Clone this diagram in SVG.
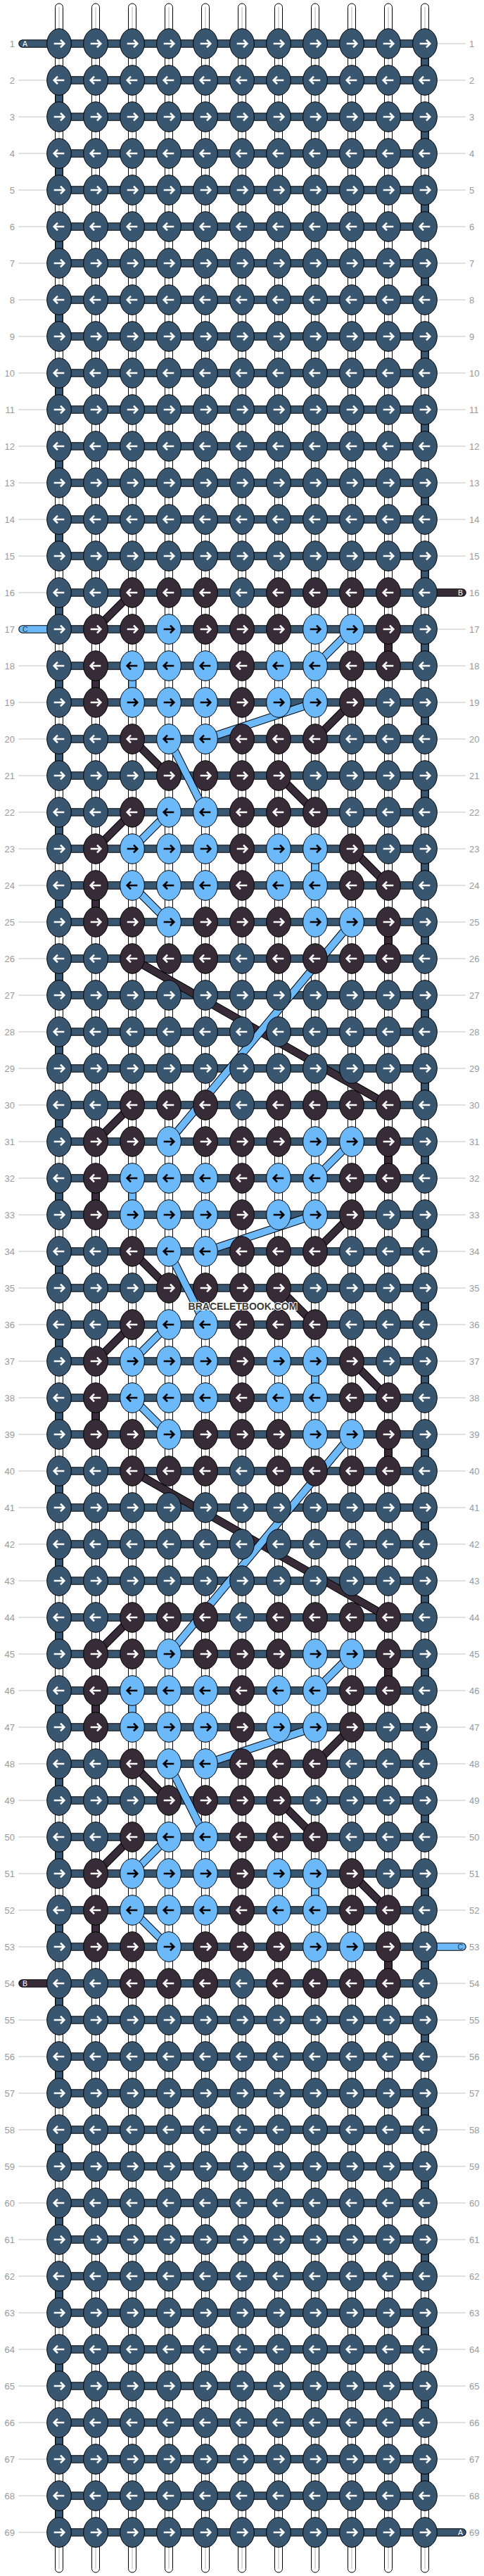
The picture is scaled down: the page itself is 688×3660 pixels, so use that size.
<svg xmlns="http://www.w3.org/2000/svg" width="688" height="3660" viewBox="0 0 688 3660">
<style>
.o{fill:none;stroke:#000;stroke-width:11.5}
.s{fill:none;stroke:#385670;stroke-width:9.5}
.p{fill:none;stroke:#372b38;stroke-width:9.5}
.l{fill:none;stroke:#6cb9fa;stroke-width:9.5}
.rc{stroke-linecap:round}
.th{fill:#fff;stroke:#000;stroke-width:1}
.tc{stroke:#b4b4b4;stroke-width:1}
.gd{fill:none;stroke:#c4c4c4;stroke-width:1.2}
.ks{fill:#385670;stroke:#000;stroke-width:1}
.kp{fill:#372b38;stroke:#000;stroke-width:1}
.kl{fill:#6cb9fa;stroke:#000;stroke-width:1}
.aw{fill:none;stroke:#fff;stroke-width:2.6}
.ab{fill:none;stroke:#000;stroke-width:2.6}
.rn{font-family:"Liberation Sans",Arial,sans-serif;font-size:13px;fill:#999}
.rl{text-anchor:end}
.sl{font-family:"Liberation Sans",Arial,sans-serif;font-size:10.5px}
.wm{font-family:"Liberation Sans",Arial,sans-serif;font-size:14px;font-weight:bold;fill:#3a3a3a;stroke:#fff;stroke-width:2;paint-order:stroke;text-anchor:middle}
</style>
<defs>
<path id="ar" d="M-7.3,0H6.5M2,-5.3L7.3,0L2,5.3"/>
<path id="al" d="M7.3,0H-6.5M-2,-5.3L-7.3,0L-2,5.3"/>
<g id="Sr"><ellipse rx="17.3" ry="21.3" class="ks"/><use href="#ar" class="aw"/></g>
<g id="Sl"><ellipse rx="17.3" ry="21.3" class="ks"/><use href="#al" class="aw"/></g>
<g id="Pr"><ellipse rx="17.3" ry="21.3" class="kp"/><use href="#ar" class="aw"/></g>
<g id="Pl"><ellipse rx="17.3" ry="21.3" class="kp"/><use href="#al" class="aw"/></g>
<g id="Lr"><ellipse rx="17.3" ry="21.3" class="kl"/><use href="#ar" class="ab"/></g>
<g id="Ll"><ellipse rx="17.3" ry="21.3" class="kl"/><use href="#al" class="ab"/></g>
<path id="mP" d="M552,894V946M136,946V998M136,1258V1310M552,1310V1362M188,842L136,894M500,998L448,1050M188,1050L240,1102M396,1102L448,1154M188,1154L136,1206M500,1206L552,1258"/>
<path id="mL" d="M188,946V998M448,1206V1258M500,894L448,946M448,998L292,1050M240,1050L292,1154M240,1154L188,1206M188,1258L240,1310"/>
<path id="lP" d="M188,1362L552,1570M188,2090L552,2298"/>
<path id="lL" d="M500,1310L240,1622M500,2038L240,2350"/>
</defs>
<rect width="688" height="3660" fill="#fff"/>
<g id="threads">
<rect class="th" x="78.5" y="5" width="11" height="3650" rx="5.5"/><line class="tc" x1="84" y1="10" x2="84" y2="3650"/>
<rect class="th" x="130.5" y="5" width="11" height="3650" rx="5.5"/><line class="tc" x1="136" y1="10" x2="136" y2="3650"/>
<rect class="th" x="182.5" y="5" width="11" height="3650" rx="5.5"/><line class="tc" x1="188" y1="10" x2="188" y2="3650"/>
<rect class="th" x="234.5" y="5" width="11" height="3650" rx="5.5"/><line class="tc" x1="240" y1="10" x2="240" y2="3650"/>
<rect class="th" x="286.5" y="5" width="11" height="3650" rx="5.5"/><line class="tc" x1="292" y1="10" x2="292" y2="3650"/>
<rect class="th" x="338.5" y="5" width="11" height="3650" rx="5.5"/><line class="tc" x1="344" y1="10" x2="344" y2="3650"/>
<rect class="th" x="390.5" y="5" width="11" height="3650" rx="5.5"/><line class="tc" x1="396" y1="10" x2="396" y2="3650"/>
<rect class="th" x="442.5" y="5" width="11" height="3650" rx="5.5"/><line class="tc" x1="448" y1="10" x2="448" y2="3650"/>
<rect class="th" x="494.5" y="5" width="11" height="3650" rx="5.5"/><line class="tc" x1="500" y1="10" x2="500" y2="3650"/>
<rect class="th" x="546.5" y="5" width="11" height="3650" rx="5.5"/><line class="tc" x1="552" y1="10" x2="552" y2="3650"/>
<rect class="th" x="598.5" y="5" width="11" height="3650" rx="5.5"/><line class="tc" x1="604" y1="10" x2="604" y2="3650"/>
</g>
<g id="guides">
<path class="gd" d="M26,114H70M26,166H70M26,218H70M26,270H70M26,322H70M26,374H70M26,426H70M26,478H70M26,530H70M26,582H70M26,634H70M26,686H70M26,738H70M26,790H70M26,842H70M26,946H70M26,998H70M26,1050H70M26,1102H70M26,1154H70M26,1206H70M26,1258H70M26,1310H70M26,1362H70M26,1414H70M26,1466H70M26,1518H70M26,1570H70M26,1622H70M26,1674H70M26,1726H70M26,1778H70M26,1830H70M26,1882H70M26,1934H70M26,1986H70M26,2038H70M26,2090H70M26,2142H70M26,2194H70M26,2246H70M26,2298H70M26,2350H70M26,2402H70M26,2454H70M26,2506H70M26,2558H70M26,2610H70M26,2662H70M26,2714H70M26,2766H70M26,2870H70M26,2922H70M26,2974H70M26,3026H70M26,3078H70M26,3130H70M26,3182H70M26,3234H70M26,3286H70M26,3338H70M26,3390H70M26,3442H70M26,3494H70M26,3546H70M26,3598H70"/>
<path class="gd" d="M618,62H662M618,114H662M618,166H662M618,218H662M618,270H662M618,322H662M618,374H662M618,426H662M618,478H662M618,530H662M618,582H662M618,634H662M618,686H662M618,738H662M618,790H662M618,894H662M618,946H662M618,998H662M618,1050H662M618,1102H662M618,1154H662M618,1206H662M618,1258H662M618,1310H662M618,1362H662M618,1414H662M618,1466H662M618,1518H662M618,1570H662M618,1622H662M618,1674H662M618,1726H662M618,1778H662M618,1830H662M618,1882H662M618,1934H662M618,1986H662M618,2038H662M618,2090H662M618,2142H662M618,2194H662M618,2246H662M618,2298H662M618,2350H662M618,2402H662M618,2454H662M618,2506H662M618,2558H662M618,2610H662M618,2662H662M618,2714H662M618,2818H662M618,2870H662M618,2922H662M618,2974H662M618,3026H662M618,3078H662M618,3130H662M618,3182H662M618,3234H662M618,3286H662M618,3338H662M618,3390H662M618,3442H662M618,3494H662M618,3546H662"/>
</g>
<g id="connectors">
<g id="threadA">
<path class="o rc" d="M32,62H604V114H84V166H604V218H84V270H604V322H84V374H604V426H84V478H604V530H84V582H604V634H84V686H604V738H84V790H604V842H84V894H604V946H84V998H604V1050H84V1102H604V1154H84V1206H604V1258H84V1310H604V1362H84V1414H604V1466H84V1518H604V1570H84V1622H604V1674H84V1726H604V1778H84V1830H604V1882H84V1934H604V1986H84V2038H604V2090H84V2142H604V2194H84V2246H604V2298H84V2350H604V2402H84V2454H604V2506H84V2558H604V2610H84V2662H604V2714H84V2766H604V2818H84V2870H604V2922H84V2974H604V3026H84V3078H604V3130H84V3182H604V3234H84V3286H604V3338H84V3390H604V3442H84V3494H604V3546H84V3598H657"/>
<path class="s rc" d="M32,62H604V114H84V166H604V218H84V270H604V322H84V374H604V426H84V478H604V530H84V582H604V634H84V686H604V738H84V790H604V842H84V894H604V946H84V998H604V1050H84V1102H604V1154H84V1206H604V1258H84V1310H604V1362H84V1414H604V1466H84V1518H604V1570H84V1622H604V1674H84V1726H604V1778H84V1830H604V1882H84V1934H604V1986H84V2038H604V2090H84V2142H604V2194H84V2246H604V2298H84V2350H604V2402H84V2454H604V2506H84V2558H604V2610H84V2662H604V2714H84V2766H604V2818H84V2870H604V2922H84V2974H604V3026H84V3078H604V3130H84V3182H604V3234H84V3286H604V3338H84V3390H604V3442H84V3494H604V3546H84V3598H657"/>
</g>
<g id="stubs">
<path class="o rc" d="M604,842H657M604,2766H657M32,894H84M32,2818H84"/>
<path class="p rc" d="M604,842H657M32,2818H84"/>
<path class="l rc" d="M32,894H84M604,2766H657"/>
</g>
<g id="motif1"><use href="#mP" class="o"/><use href="#mP" class="p"/><use href="#mL" class="o"/><use href="#mL" class="l"/></g>
<g id="motif2"><use href="#mP" class="o" y="728"/><use href="#mP" class="p" y="728"/><use href="#mL" class="o" y="728"/><use href="#mL" class="l" y="728"/></g>
<g id="motif3"><use href="#mP" class="o" y="1456"/><use href="#mP" class="p" y="1456"/><use href="#mL" class="o" y="1456"/><use href="#mL" class="l" y="1456"/></g>
<g id="floats"><use href="#lP" class="o"/><use href="#lP" class="p"/><use href="#lL" class="o"/><use href="#lL" class="l"/></g>
</g>
<g id="knots">
<g id="row1" transform="translate(0,62)"><use id="k1-1" href="#Sr" x="84"/><use id="k1-2" href="#Sr" x="136"/><use id="k1-3" href="#Sr" x="188"/><use id="k1-4" href="#Sr" x="240"/><use id="k1-5" href="#Sr" x="292"/><use id="k1-6" href="#Sr" x="344"/><use id="k1-7" href="#Sr" x="396"/><use id="k1-8" href="#Sr" x="448"/><use id="k1-9" href="#Sr" x="500"/><use id="k1-10" href="#Sr" x="552"/><use id="k1-11" href="#Sr" x="604"/></g>
<g id="row2" transform="translate(0,114)"><use id="k2-1" href="#Sl" x="84"/><use id="k2-2" href="#Sl" x="136"/><use id="k2-3" href="#Sl" x="188"/><use id="k2-4" href="#Sl" x="240"/><use id="k2-5" href="#Sl" x="292"/><use id="k2-6" href="#Sl" x="344"/><use id="k2-7" href="#Sl" x="396"/><use id="k2-8" href="#Sl" x="448"/><use id="k2-9" href="#Sl" x="500"/><use id="k2-10" href="#Sl" x="552"/><use id="k2-11" href="#Sl" x="604"/></g>
<g id="row3" transform="translate(0,166)"><use id="k3-1" href="#Sr" x="84"/><use id="k3-2" href="#Sr" x="136"/><use id="k3-3" href="#Sr" x="188"/><use id="k3-4" href="#Sr" x="240"/><use id="k3-5" href="#Sr" x="292"/><use id="k3-6" href="#Sr" x="344"/><use id="k3-7" href="#Sr" x="396"/><use id="k3-8" href="#Sr" x="448"/><use id="k3-9" href="#Sr" x="500"/><use id="k3-10" href="#Sr" x="552"/><use id="k3-11" href="#Sr" x="604"/></g>
<g id="row4" transform="translate(0,218)"><use id="k4-1" href="#Sl" x="84"/><use id="k4-2" href="#Sl" x="136"/><use id="k4-3" href="#Sl" x="188"/><use id="k4-4" href="#Sl" x="240"/><use id="k4-5" href="#Sl" x="292"/><use id="k4-6" href="#Sl" x="344"/><use id="k4-7" href="#Sl" x="396"/><use id="k4-8" href="#Sl" x="448"/><use id="k4-9" href="#Sl" x="500"/><use id="k4-10" href="#Sl" x="552"/><use id="k4-11" href="#Sl" x="604"/></g>
<g id="row5" transform="translate(0,270)"><use id="k5-1" href="#Sr" x="84"/><use id="k5-2" href="#Sr" x="136"/><use id="k5-3" href="#Sr" x="188"/><use id="k5-4" href="#Sr" x="240"/><use id="k5-5" href="#Sr" x="292"/><use id="k5-6" href="#Sr" x="344"/><use id="k5-7" href="#Sr" x="396"/><use id="k5-8" href="#Sr" x="448"/><use id="k5-9" href="#Sr" x="500"/><use id="k5-10" href="#Sr" x="552"/><use id="k5-11" href="#Sr" x="604"/></g>
<g id="row6" transform="translate(0,322)"><use id="k6-1" href="#Sl" x="84"/><use id="k6-2" href="#Sl" x="136"/><use id="k6-3" href="#Sl" x="188"/><use id="k6-4" href="#Sl" x="240"/><use id="k6-5" href="#Sl" x="292"/><use id="k6-6" href="#Sl" x="344"/><use id="k6-7" href="#Sl" x="396"/><use id="k6-8" href="#Sl" x="448"/><use id="k6-9" href="#Sl" x="500"/><use id="k6-10" href="#Sl" x="552"/><use id="k6-11" href="#Sl" x="604"/></g>
<g id="row7" transform="translate(0,374)"><use id="k7-1" href="#Sr" x="84"/><use id="k7-2" href="#Sr" x="136"/><use id="k7-3" href="#Sr" x="188"/><use id="k7-4" href="#Sr" x="240"/><use id="k7-5" href="#Sr" x="292"/><use id="k7-6" href="#Sr" x="344"/><use id="k7-7" href="#Sr" x="396"/><use id="k7-8" href="#Sr" x="448"/><use id="k7-9" href="#Sr" x="500"/><use id="k7-10" href="#Sr" x="552"/><use id="k7-11" href="#Sr" x="604"/></g>
<g id="row8" transform="translate(0,426)"><use id="k8-1" href="#Sl" x="84"/><use id="k8-2" href="#Sl" x="136"/><use id="k8-3" href="#Sl" x="188"/><use id="k8-4" href="#Sl" x="240"/><use id="k8-5" href="#Sl" x="292"/><use id="k8-6" href="#Sl" x="344"/><use id="k8-7" href="#Sl" x="396"/><use id="k8-8" href="#Sl" x="448"/><use id="k8-9" href="#Sl" x="500"/><use id="k8-10" href="#Sl" x="552"/><use id="k8-11" href="#Sl" x="604"/></g>
<g id="row9" transform="translate(0,478)"><use id="k9-1" href="#Sr" x="84"/><use id="k9-2" href="#Sr" x="136"/><use id="k9-3" href="#Sr" x="188"/><use id="k9-4" href="#Sr" x="240"/><use id="k9-5" href="#Sr" x="292"/><use id="k9-6" href="#Sr" x="344"/><use id="k9-7" href="#Sr" x="396"/><use id="k9-8" href="#Sr" x="448"/><use id="k9-9" href="#Sr" x="500"/><use id="k9-10" href="#Sr" x="552"/><use id="k9-11" href="#Sr" x="604"/></g>
<g id="row10" transform="translate(0,530)"><use id="k10-1" href="#Sl" x="84"/><use id="k10-2" href="#Sl" x="136"/><use id="k10-3" href="#Sl" x="188"/><use id="k10-4" href="#Sl" x="240"/><use id="k10-5" href="#Sl" x="292"/><use id="k10-6" href="#Sl" x="344"/><use id="k10-7" href="#Sl" x="396"/><use id="k10-8" href="#Sl" x="448"/><use id="k10-9" href="#Sl" x="500"/><use id="k10-10" href="#Sl" x="552"/><use id="k10-11" href="#Sl" x="604"/></g>
<g id="row11" transform="translate(0,582)"><use id="k11-1" href="#Sr" x="84"/><use id="k11-2" href="#Sr" x="136"/><use id="k11-3" href="#Sr" x="188"/><use id="k11-4" href="#Sr" x="240"/><use id="k11-5" href="#Sr" x="292"/><use id="k11-6" href="#Sr" x="344"/><use id="k11-7" href="#Sr" x="396"/><use id="k11-8" href="#Sr" x="448"/><use id="k11-9" href="#Sr" x="500"/><use id="k11-10" href="#Sr" x="552"/><use id="k11-11" href="#Sr" x="604"/></g>
<g id="row12" transform="translate(0,634)"><use id="k12-1" href="#Sl" x="84"/><use id="k12-2" href="#Sl" x="136"/><use id="k12-3" href="#Sl" x="188"/><use id="k12-4" href="#Sl" x="240"/><use id="k12-5" href="#Sl" x="292"/><use id="k12-6" href="#Sl" x="344"/><use id="k12-7" href="#Sl" x="396"/><use id="k12-8" href="#Sl" x="448"/><use id="k12-9" href="#Sl" x="500"/><use id="k12-10" href="#Sl" x="552"/><use id="k12-11" href="#Sl" x="604"/></g>
<g id="row13" transform="translate(0,686)"><use id="k13-1" href="#Sr" x="84"/><use id="k13-2" href="#Sr" x="136"/><use id="k13-3" href="#Sr" x="188"/><use id="k13-4" href="#Sr" x="240"/><use id="k13-5" href="#Sr" x="292"/><use id="k13-6" href="#Sr" x="344"/><use id="k13-7" href="#Sr" x="396"/><use id="k13-8" href="#Sr" x="448"/><use id="k13-9" href="#Sr" x="500"/><use id="k13-10" href="#Sr" x="552"/><use id="k13-11" href="#Sr" x="604"/></g>
<g id="row14" transform="translate(0,738)"><use id="k14-1" href="#Sl" x="84"/><use id="k14-2" href="#Sl" x="136"/><use id="k14-3" href="#Sl" x="188"/><use id="k14-4" href="#Sl" x="240"/><use id="k14-5" href="#Sl" x="292"/><use id="k14-6" href="#Sl" x="344"/><use id="k14-7" href="#Sl" x="396"/><use id="k14-8" href="#Sl" x="448"/><use id="k14-9" href="#Sl" x="500"/><use id="k14-10" href="#Sl" x="552"/><use id="k14-11" href="#Sl" x="604"/></g>
<g id="row15" transform="translate(0,790)"><use id="k15-1" href="#Sr" x="84"/><use id="k15-2" href="#Sr" x="136"/><use id="k15-3" href="#Sr" x="188"/><use id="k15-4" href="#Sr" x="240"/><use id="k15-5" href="#Sr" x="292"/><use id="k15-6" href="#Sr" x="344"/><use id="k15-7" href="#Sr" x="396"/><use id="k15-8" href="#Sr" x="448"/><use id="k15-9" href="#Sr" x="500"/><use id="k15-10" href="#Sr" x="552"/><use id="k15-11" href="#Sr" x="604"/></g>
<g id="row16" transform="translate(0,842)"><use id="k16-1" href="#Sl" x="84"/><use id="k16-2" href="#Sl" x="136"/><use id="k16-3" href="#Pl" x="188"/><use id="k16-4" href="#Pl" x="240"/><use id="k16-5" href="#Pl" x="292"/><use id="k16-6" href="#Sl" x="344"/><use id="k16-7" href="#Pl" x="396"/><use id="k16-8" href="#Pl" x="448"/><use id="k16-9" href="#Pl" x="500"/><use id="k16-10" href="#Pl" x="552"/><use id="k16-11" href="#Sl" x="604"/></g>
<g id="row17" transform="translate(0,894)"><use id="k17-1" href="#Sr" x="84"/><use id="k17-2" href="#Pr" x="136"/><use id="k17-3" href="#Pr" x="188"/><use id="k17-4" href="#Lr" x="240"/><use id="k17-5" href="#Pr" x="292"/><use id="k17-6" href="#Pr" x="344"/><use id="k17-7" href="#Pr" x="396"/><use id="k17-8" href="#Lr" x="448"/><use id="k17-9" href="#Lr" x="500"/><use id="k17-10" href="#Pr" x="552"/><use id="k17-11" href="#Sr" x="604"/></g>
<g id="row18" transform="translate(0,946)"><use id="k18-1" href="#Sl" x="84"/><use id="k18-2" href="#Pl" x="136"/><use id="k18-3" href="#Ll" x="188"/><use id="k18-4" href="#Ll" x="240"/><use id="k18-5" href="#Ll" x="292"/><use id="k18-6" href="#Pl" x="344"/><use id="k18-7" href="#Ll" x="396"/><use id="k18-8" href="#Ll" x="448"/><use id="k18-9" href="#Pl" x="500"/><use id="k18-10" href="#Pl" x="552"/><use id="k18-11" href="#Sl" x="604"/></g>
<g id="row19" transform="translate(0,998)"><use id="k19-1" href="#Sr" x="84"/><use id="k19-2" href="#Pr" x="136"/><use id="k19-3" href="#Lr" x="188"/><use id="k19-4" href="#Lr" x="240"/><use id="k19-5" href="#Lr" x="292"/><use id="k19-6" href="#Pr" x="344"/><use id="k19-7" href="#Lr" x="396"/><use id="k19-8" href="#Lr" x="448"/><use id="k19-9" href="#Pr" x="500"/><use id="k19-10" href="#Sr" x="552"/><use id="k19-11" href="#Sr" x="604"/></g>
<g id="row20" transform="translate(0,1050)"><use id="k20-1" href="#Sl" x="84"/><use id="k20-2" href="#Sl" x="136"/><use id="k20-3" href="#Pl" x="188"/><use id="k20-4" href="#Ll" x="240"/><use id="k20-5" href="#Ll" x="292"/><use id="k20-6" href="#Pl" x="344"/><use id="k20-7" href="#Pl" x="396"/><use id="k20-8" href="#Pl" x="448"/><use id="k20-9" href="#Sl" x="500"/><use id="k20-10" href="#Sl" x="552"/><use id="k20-11" href="#Sl" x="604"/></g>
<g id="row21" transform="translate(0,1102)"><use id="k21-1" href="#Sr" x="84"/><use id="k21-2" href="#Sr" x="136"/><use id="k21-3" href="#Sr" x="188"/><use id="k21-4" href="#Pr" x="240"/><use id="k21-5" href="#Pr" x="292"/><use id="k21-6" href="#Pr" x="344"/><use id="k21-7" href="#Pr" x="396"/><use id="k21-8" href="#Sr" x="448"/><use id="k21-9" href="#Sr" x="500"/><use id="k21-10" href="#Sr" x="552"/><use id="k21-11" href="#Sr" x="604"/></g>
<g id="row22" transform="translate(0,1154)"><use id="k22-1" href="#Sl" x="84"/><use id="k22-2" href="#Sl" x="136"/><use id="k22-3" href="#Pl" x="188"/><use id="k22-4" href="#Ll" x="240"/><use id="k22-5" href="#Ll" x="292"/><use id="k22-6" href="#Pl" x="344"/><use id="k22-7" href="#Pl" x="396"/><use id="k22-8" href="#Pl" x="448"/><use id="k22-9" href="#Sl" x="500"/><use id="k22-10" href="#Sl" x="552"/><use id="k22-11" href="#Sl" x="604"/></g>
<g id="row23" transform="translate(0,1206)"><use id="k23-1" href="#Sr" x="84"/><use id="k23-2" href="#Pr" x="136"/><use id="k23-3" href="#Lr" x="188"/><use id="k23-4" href="#Lr" x="240"/><use id="k23-5" href="#Lr" x="292"/><use id="k23-6" href="#Pr" x="344"/><use id="k23-7" href="#Lr" x="396"/><use id="k23-8" href="#Lr" x="448"/><use id="k23-9" href="#Pr" x="500"/><use id="k23-10" href="#Sr" x="552"/><use id="k23-11" href="#Sr" x="604"/></g>
<g id="row24" transform="translate(0,1258)"><use id="k24-1" href="#Sl" x="84"/><use id="k24-2" href="#Pl" x="136"/><use id="k24-3" href="#Ll" x="188"/><use id="k24-4" href="#Ll" x="240"/><use id="k24-5" href="#Ll" x="292"/><use id="k24-6" href="#Pl" x="344"/><use id="k24-7" href="#Ll" x="396"/><use id="k24-8" href="#Ll" x="448"/><use id="k24-9" href="#Pl" x="500"/><use id="k24-10" href="#Pl" x="552"/><use id="k24-11" href="#Sl" x="604"/></g>
<g id="row25" transform="translate(0,1310)"><use id="k25-1" href="#Sr" x="84"/><use id="k25-2" href="#Pr" x="136"/><use id="k25-3" href="#Pr" x="188"/><use id="k25-4" href="#Lr" x="240"/><use id="k25-5" href="#Pr" x="292"/><use id="k25-6" href="#Pr" x="344"/><use id="k25-7" href="#Pr" x="396"/><use id="k25-8" href="#Lr" x="448"/><use id="k25-9" href="#Lr" x="500"/><use id="k25-10" href="#Pr" x="552"/><use id="k25-11" href="#Sr" x="604"/></g>
<g id="row26" transform="translate(0,1362)"><use id="k26-1" href="#Sl" x="84"/><use id="k26-2" href="#Sl" x="136"/><use id="k26-3" href="#Pl" x="188"/><use id="k26-4" href="#Pl" x="240"/><use id="k26-5" href="#Pl" x="292"/><use id="k26-6" href="#Sl" x="344"/><use id="k26-7" href="#Pl" x="396"/><use id="k26-8" href="#Pl" x="448"/><use id="k26-9" href="#Pl" x="500"/><use id="k26-10" href="#Pl" x="552"/><use id="k26-11" href="#Sl" x="604"/></g>
<g id="row27" transform="translate(0,1414)"><use id="k27-1" href="#Sr" x="84"/><use id="k27-2" href="#Sr" x="136"/><use id="k27-3" href="#Sr" x="188"/><use id="k27-4" href="#Sr" x="240"/><use id="k27-5" href="#Sr" x="292"/><use id="k27-6" href="#Sr" x="344"/><use id="k27-7" href="#Sr" x="396"/><use id="k27-8" href="#Sr" x="448"/><use id="k27-9" href="#Sr" x="500"/><use id="k27-10" href="#Sr" x="552"/><use id="k27-11" href="#Sr" x="604"/></g>
<g id="row28" transform="translate(0,1466)"><use id="k28-1" href="#Sl" x="84"/><use id="k28-2" href="#Sl" x="136"/><use id="k28-3" href="#Sl" x="188"/><use id="k28-4" href="#Sl" x="240"/><use id="k28-5" href="#Sl" x="292"/><use id="k28-6" href="#Sl" x="344"/><use id="k28-7" href="#Sl" x="396"/><use id="k28-8" href="#Sl" x="448"/><use id="k28-9" href="#Sl" x="500"/><use id="k28-10" href="#Sl" x="552"/><use id="k28-11" href="#Sl" x="604"/></g>
<g id="row29" transform="translate(0,1518)"><use id="k29-1" href="#Sr" x="84"/><use id="k29-2" href="#Sr" x="136"/><use id="k29-3" href="#Sr" x="188"/><use id="k29-4" href="#Sr" x="240"/><use id="k29-5" href="#Sr" x="292"/><use id="k29-6" href="#Sr" x="344"/><use id="k29-7" href="#Sr" x="396"/><use id="k29-8" href="#Sr" x="448"/><use id="k29-9" href="#Sr" x="500"/><use id="k29-10" href="#Sr" x="552"/><use id="k29-11" href="#Sr" x="604"/></g>
<g id="row30" transform="translate(0,1570)"><use id="k30-1" href="#Sl" x="84"/><use id="k30-2" href="#Sl" x="136"/><use id="k30-3" href="#Pl" x="188"/><use id="k30-4" href="#Pl" x="240"/><use id="k30-5" href="#Pl" x="292"/><use id="k30-6" href="#Sl" x="344"/><use id="k30-7" href="#Pl" x="396"/><use id="k30-8" href="#Pl" x="448"/><use id="k30-9" href="#Pl" x="500"/><use id="k30-10" href="#Pl" x="552"/><use id="k30-11" href="#Sl" x="604"/></g>
<g id="row31" transform="translate(0,1622)"><use id="k31-1" href="#Sr" x="84"/><use id="k31-2" href="#Pr" x="136"/><use id="k31-3" href="#Pr" x="188"/><use id="k31-4" href="#Lr" x="240"/><use id="k31-5" href="#Pr" x="292"/><use id="k31-6" href="#Pr" x="344"/><use id="k31-7" href="#Pr" x="396"/><use id="k31-8" href="#Lr" x="448"/><use id="k31-9" href="#Lr" x="500"/><use id="k31-10" href="#Pr" x="552"/><use id="k31-11" href="#Sr" x="604"/></g>
<g id="row32" transform="translate(0,1674)"><use id="k32-1" href="#Sl" x="84"/><use id="k32-2" href="#Pl" x="136"/><use id="k32-3" href="#Ll" x="188"/><use id="k32-4" href="#Ll" x="240"/><use id="k32-5" href="#Ll" x="292"/><use id="k32-6" href="#Pl" x="344"/><use id="k32-7" href="#Ll" x="396"/><use id="k32-8" href="#Ll" x="448"/><use id="k32-9" href="#Pl" x="500"/><use id="k32-10" href="#Pl" x="552"/><use id="k32-11" href="#Sl" x="604"/></g>
<g id="row33" transform="translate(0,1726)"><use id="k33-1" href="#Sr" x="84"/><use id="k33-2" href="#Pr" x="136"/><use id="k33-3" href="#Lr" x="188"/><use id="k33-4" href="#Lr" x="240"/><use id="k33-5" href="#Lr" x="292"/><use id="k33-6" href="#Pr" x="344"/><use id="k33-7" href="#Lr" x="396"/><use id="k33-8" href="#Lr" x="448"/><use id="k33-9" href="#Pr" x="500"/><use id="k33-10" href="#Sr" x="552"/><use id="k33-11" href="#Sr" x="604"/></g>
<g id="row34" transform="translate(0,1778)"><use id="k34-1" href="#Sl" x="84"/><use id="k34-2" href="#Sl" x="136"/><use id="k34-3" href="#Pl" x="188"/><use id="k34-4" href="#Ll" x="240"/><use id="k34-5" href="#Ll" x="292"/><use id="k34-6" href="#Pl" x="344"/><use id="k34-7" href="#Pl" x="396"/><use id="k34-8" href="#Pl" x="448"/><use id="k34-9" href="#Sl" x="500"/><use id="k34-10" href="#Sl" x="552"/><use id="k34-11" href="#Sl" x="604"/></g>
<g id="row35" transform="translate(0,1830)"><use id="k35-1" href="#Sr" x="84"/><use id="k35-2" href="#Sr" x="136"/><use id="k35-3" href="#Sr" x="188"/><use id="k35-4" href="#Pr" x="240"/><use id="k35-5" href="#Pr" x="292"/><use id="k35-6" href="#Pr" x="344"/><use id="k35-7" href="#Pr" x="396"/><use id="k35-8" href="#Sr" x="448"/><use id="k35-9" href="#Sr" x="500"/><use id="k35-10" href="#Sr" x="552"/><use id="k35-11" href="#Sr" x="604"/></g>
<g id="row36" transform="translate(0,1882)"><use id="k36-1" href="#Sl" x="84"/><use id="k36-2" href="#Sl" x="136"/><use id="k36-3" href="#Pl" x="188"/><use id="k36-4" href="#Ll" x="240"/><use id="k36-5" href="#Ll" x="292"/><use id="k36-6" href="#Pl" x="344"/><use id="k36-7" href="#Pl" x="396"/><use id="k36-8" href="#Pl" x="448"/><use id="k36-9" href="#Sl" x="500"/><use id="k36-10" href="#Sl" x="552"/><use id="k36-11" href="#Sl" x="604"/></g>
<g id="row37" transform="translate(0,1934)"><use id="k37-1" href="#Sr" x="84"/><use id="k37-2" href="#Pr" x="136"/><use id="k37-3" href="#Lr" x="188"/><use id="k37-4" href="#Lr" x="240"/><use id="k37-5" href="#Lr" x="292"/><use id="k37-6" href="#Pr" x="344"/><use id="k37-7" href="#Lr" x="396"/><use id="k37-8" href="#Lr" x="448"/><use id="k37-9" href="#Pr" x="500"/><use id="k37-10" href="#Sr" x="552"/><use id="k37-11" href="#Sr" x="604"/></g>
<g id="row38" transform="translate(0,1986)"><use id="k38-1" href="#Sl" x="84"/><use id="k38-2" href="#Pl" x="136"/><use id="k38-3" href="#Ll" x="188"/><use id="k38-4" href="#Ll" x="240"/><use id="k38-5" href="#Ll" x="292"/><use id="k38-6" href="#Pl" x="344"/><use id="k38-7" href="#Ll" x="396"/><use id="k38-8" href="#Ll" x="448"/><use id="k38-9" href="#Pl" x="500"/><use id="k38-10" href="#Pl" x="552"/><use id="k38-11" href="#Sl" x="604"/></g>
<g id="row39" transform="translate(0,2038)"><use id="k39-1" href="#Sr" x="84"/><use id="k39-2" href="#Pr" x="136"/><use id="k39-3" href="#Pr" x="188"/><use id="k39-4" href="#Lr" x="240"/><use id="k39-5" href="#Pr" x="292"/><use id="k39-6" href="#Pr" x="344"/><use id="k39-7" href="#Pr" x="396"/><use id="k39-8" href="#Lr" x="448"/><use id="k39-9" href="#Lr" x="500"/><use id="k39-10" href="#Pr" x="552"/><use id="k39-11" href="#Sr" x="604"/></g>
<g id="row40" transform="translate(0,2090)"><use id="k40-1" href="#Sl" x="84"/><use id="k40-2" href="#Sl" x="136"/><use id="k40-3" href="#Pl" x="188"/><use id="k40-4" href="#Pl" x="240"/><use id="k40-5" href="#Pl" x="292"/><use id="k40-6" href="#Sl" x="344"/><use id="k40-7" href="#Pl" x="396"/><use id="k40-8" href="#Pl" x="448"/><use id="k40-9" href="#Pl" x="500"/><use id="k40-10" href="#Pl" x="552"/><use id="k40-11" href="#Sl" x="604"/></g>
<g id="row41" transform="translate(0,2142)"><use id="k41-1" href="#Sr" x="84"/><use id="k41-2" href="#Sr" x="136"/><use id="k41-3" href="#Sr" x="188"/><use id="k41-4" href="#Sr" x="240"/><use id="k41-5" href="#Sr" x="292"/><use id="k41-6" href="#Sr" x="344"/><use id="k41-7" href="#Sr" x="396"/><use id="k41-8" href="#Sr" x="448"/><use id="k41-9" href="#Sr" x="500"/><use id="k41-10" href="#Sr" x="552"/><use id="k41-11" href="#Sr" x="604"/></g>
<g id="row42" transform="translate(0,2194)"><use id="k42-1" href="#Sl" x="84"/><use id="k42-2" href="#Sl" x="136"/><use id="k42-3" href="#Sl" x="188"/><use id="k42-4" href="#Sl" x="240"/><use id="k42-5" href="#Sl" x="292"/><use id="k42-6" href="#Sl" x="344"/><use id="k42-7" href="#Sl" x="396"/><use id="k42-8" href="#Sl" x="448"/><use id="k42-9" href="#Sl" x="500"/><use id="k42-10" href="#Sl" x="552"/><use id="k42-11" href="#Sl" x="604"/></g>
<g id="row43" transform="translate(0,2246)"><use id="k43-1" href="#Sr" x="84"/><use id="k43-2" href="#Sr" x="136"/><use id="k43-3" href="#Sr" x="188"/><use id="k43-4" href="#Sr" x="240"/><use id="k43-5" href="#Sr" x="292"/><use id="k43-6" href="#Sr" x="344"/><use id="k43-7" href="#Sr" x="396"/><use id="k43-8" href="#Sr" x="448"/><use id="k43-9" href="#Sr" x="500"/><use id="k43-10" href="#Sr" x="552"/><use id="k43-11" href="#Sr" x="604"/></g>
<g id="row44" transform="translate(0,2298)"><use id="k44-1" href="#Sl" x="84"/><use id="k44-2" href="#Sl" x="136"/><use id="k44-3" href="#Pl" x="188"/><use id="k44-4" href="#Pl" x="240"/><use id="k44-5" href="#Pl" x="292"/><use id="k44-6" href="#Sl" x="344"/><use id="k44-7" href="#Pl" x="396"/><use id="k44-8" href="#Pl" x="448"/><use id="k44-9" href="#Pl" x="500"/><use id="k44-10" href="#Pl" x="552"/><use id="k44-11" href="#Sl" x="604"/></g>
<g id="row45" transform="translate(0,2350)"><use id="k45-1" href="#Sr" x="84"/><use id="k45-2" href="#Pr" x="136"/><use id="k45-3" href="#Pr" x="188"/><use id="k45-4" href="#Lr" x="240"/><use id="k45-5" href="#Pr" x="292"/><use id="k45-6" href="#Pr" x="344"/><use id="k45-7" href="#Pr" x="396"/><use id="k45-8" href="#Lr" x="448"/><use id="k45-9" href="#Lr" x="500"/><use id="k45-10" href="#Pr" x="552"/><use id="k45-11" href="#Sr" x="604"/></g>
<g id="row46" transform="translate(0,2402)"><use id="k46-1" href="#Sl" x="84"/><use id="k46-2" href="#Pl" x="136"/><use id="k46-3" href="#Ll" x="188"/><use id="k46-4" href="#Ll" x="240"/><use id="k46-5" href="#Ll" x="292"/><use id="k46-6" href="#Pl" x="344"/><use id="k46-7" href="#Ll" x="396"/><use id="k46-8" href="#Ll" x="448"/><use id="k46-9" href="#Pl" x="500"/><use id="k46-10" href="#Pl" x="552"/><use id="k46-11" href="#Sl" x="604"/></g>
<g id="row47" transform="translate(0,2454)"><use id="k47-1" href="#Sr" x="84"/><use id="k47-2" href="#Pr" x="136"/><use id="k47-3" href="#Lr" x="188"/><use id="k47-4" href="#Lr" x="240"/><use id="k47-5" href="#Lr" x="292"/><use id="k47-6" href="#Pr" x="344"/><use id="k47-7" href="#Lr" x="396"/><use id="k47-8" href="#Lr" x="448"/><use id="k47-9" href="#Pr" x="500"/><use id="k47-10" href="#Sr" x="552"/><use id="k47-11" href="#Sr" x="604"/></g>
<g id="row48" transform="translate(0,2506)"><use id="k48-1" href="#Sl" x="84"/><use id="k48-2" href="#Sl" x="136"/><use id="k48-3" href="#Pl" x="188"/><use id="k48-4" href="#Ll" x="240"/><use id="k48-5" href="#Ll" x="292"/><use id="k48-6" href="#Pl" x="344"/><use id="k48-7" href="#Pl" x="396"/><use id="k48-8" href="#Pl" x="448"/><use id="k48-9" href="#Sl" x="500"/><use id="k48-10" href="#Sl" x="552"/><use id="k48-11" href="#Sl" x="604"/></g>
<g id="row49" transform="translate(0,2558)"><use id="k49-1" href="#Sr" x="84"/><use id="k49-2" href="#Sr" x="136"/><use id="k49-3" href="#Sr" x="188"/><use id="k49-4" href="#Pr" x="240"/><use id="k49-5" href="#Pr" x="292"/><use id="k49-6" href="#Pr" x="344"/><use id="k49-7" href="#Pr" x="396"/><use id="k49-8" href="#Sr" x="448"/><use id="k49-9" href="#Sr" x="500"/><use id="k49-10" href="#Sr" x="552"/><use id="k49-11" href="#Sr" x="604"/></g>
<g id="row50" transform="translate(0,2610)"><use id="k50-1" href="#Sl" x="84"/><use id="k50-2" href="#Sl" x="136"/><use id="k50-3" href="#Pl" x="188"/><use id="k50-4" href="#Ll" x="240"/><use id="k50-5" href="#Ll" x="292"/><use id="k50-6" href="#Pl" x="344"/><use id="k50-7" href="#Pl" x="396"/><use id="k50-8" href="#Pl" x="448"/><use id="k50-9" href="#Sl" x="500"/><use id="k50-10" href="#Sl" x="552"/><use id="k50-11" href="#Sl" x="604"/></g>
<g id="row51" transform="translate(0,2662)"><use id="k51-1" href="#Sr" x="84"/><use id="k51-2" href="#Pr" x="136"/><use id="k51-3" href="#Lr" x="188"/><use id="k51-4" href="#Lr" x="240"/><use id="k51-5" href="#Lr" x="292"/><use id="k51-6" href="#Pr" x="344"/><use id="k51-7" href="#Lr" x="396"/><use id="k51-8" href="#Lr" x="448"/><use id="k51-9" href="#Pr" x="500"/><use id="k51-10" href="#Sr" x="552"/><use id="k51-11" href="#Sr" x="604"/></g>
<g id="row52" transform="translate(0,2714)"><use id="k52-1" href="#Sl" x="84"/><use id="k52-2" href="#Pl" x="136"/><use id="k52-3" href="#Ll" x="188"/><use id="k52-4" href="#Ll" x="240"/><use id="k52-5" href="#Ll" x="292"/><use id="k52-6" href="#Pl" x="344"/><use id="k52-7" href="#Ll" x="396"/><use id="k52-8" href="#Ll" x="448"/><use id="k52-9" href="#Pl" x="500"/><use id="k52-10" href="#Pl" x="552"/><use id="k52-11" href="#Sl" x="604"/></g>
<g id="row53" transform="translate(0,2766)"><use id="k53-1" href="#Sr" x="84"/><use id="k53-2" href="#Pr" x="136"/><use id="k53-3" href="#Pr" x="188"/><use id="k53-4" href="#Lr" x="240"/><use id="k53-5" href="#Pr" x="292"/><use id="k53-6" href="#Pr" x="344"/><use id="k53-7" href="#Pr" x="396"/><use id="k53-8" href="#Lr" x="448"/><use id="k53-9" href="#Lr" x="500"/><use id="k53-10" href="#Pr" x="552"/><use id="k53-11" href="#Sr" x="604"/></g>
<g id="row54" transform="translate(0,2818)"><use id="k54-1" href="#Sl" x="84"/><use id="k54-2" href="#Sl" x="136"/><use id="k54-3" href="#Pl" x="188"/><use id="k54-4" href="#Pl" x="240"/><use id="k54-5" href="#Pl" x="292"/><use id="k54-6" href="#Sl" x="344"/><use id="k54-7" href="#Pl" x="396"/><use id="k54-8" href="#Pl" x="448"/><use id="k54-9" href="#Pl" x="500"/><use id="k54-10" href="#Pl" x="552"/><use id="k54-11" href="#Sl" x="604"/></g>
<g id="row55" transform="translate(0,2870)"><use id="k55-1" href="#Sr" x="84"/><use id="k55-2" href="#Sr" x="136"/><use id="k55-3" href="#Sr" x="188"/><use id="k55-4" href="#Sr" x="240"/><use id="k55-5" href="#Sr" x="292"/><use id="k55-6" href="#Sr" x="344"/><use id="k55-7" href="#Sr" x="396"/><use id="k55-8" href="#Sr" x="448"/><use id="k55-9" href="#Sr" x="500"/><use id="k55-10" href="#Sr" x="552"/><use id="k55-11" href="#Sr" x="604"/></g>
<g id="row56" transform="translate(0,2922)"><use id="k56-1" href="#Sl" x="84"/><use id="k56-2" href="#Sl" x="136"/><use id="k56-3" href="#Sl" x="188"/><use id="k56-4" href="#Sl" x="240"/><use id="k56-5" href="#Sl" x="292"/><use id="k56-6" href="#Sl" x="344"/><use id="k56-7" href="#Sl" x="396"/><use id="k56-8" href="#Sl" x="448"/><use id="k56-9" href="#Sl" x="500"/><use id="k56-10" href="#Sl" x="552"/><use id="k56-11" href="#Sl" x="604"/></g>
<g id="row57" transform="translate(0,2974)"><use id="k57-1" href="#Sr" x="84"/><use id="k57-2" href="#Sr" x="136"/><use id="k57-3" href="#Sr" x="188"/><use id="k57-4" href="#Sr" x="240"/><use id="k57-5" href="#Sr" x="292"/><use id="k57-6" href="#Sr" x="344"/><use id="k57-7" href="#Sr" x="396"/><use id="k57-8" href="#Sr" x="448"/><use id="k57-9" href="#Sr" x="500"/><use id="k57-10" href="#Sr" x="552"/><use id="k57-11" href="#Sr" x="604"/></g>
<g id="row58" transform="translate(0,3026)"><use id="k58-1" href="#Sl" x="84"/><use id="k58-2" href="#Sl" x="136"/><use id="k58-3" href="#Sl" x="188"/><use id="k58-4" href="#Sl" x="240"/><use id="k58-5" href="#Sl" x="292"/><use id="k58-6" href="#Sl" x="344"/><use id="k58-7" href="#Sl" x="396"/><use id="k58-8" href="#Sl" x="448"/><use id="k58-9" href="#Sl" x="500"/><use id="k58-10" href="#Sl" x="552"/><use id="k58-11" href="#Sl" x="604"/></g>
<g id="row59" transform="translate(0,3078)"><use id="k59-1" href="#Sr" x="84"/><use id="k59-2" href="#Sr" x="136"/><use id="k59-3" href="#Sr" x="188"/><use id="k59-4" href="#Sr" x="240"/><use id="k59-5" href="#Sr" x="292"/><use id="k59-6" href="#Sr" x="344"/><use id="k59-7" href="#Sr" x="396"/><use id="k59-8" href="#Sr" x="448"/><use id="k59-9" href="#Sr" x="500"/><use id="k59-10" href="#Sr" x="552"/><use id="k59-11" href="#Sr" x="604"/></g>
<g id="row60" transform="translate(0,3130)"><use id="k60-1" href="#Sl" x="84"/><use id="k60-2" href="#Sl" x="136"/><use id="k60-3" href="#Sl" x="188"/><use id="k60-4" href="#Sl" x="240"/><use id="k60-5" href="#Sl" x="292"/><use id="k60-6" href="#Sl" x="344"/><use id="k60-7" href="#Sl" x="396"/><use id="k60-8" href="#Sl" x="448"/><use id="k60-9" href="#Sl" x="500"/><use id="k60-10" href="#Sl" x="552"/><use id="k60-11" href="#Sl" x="604"/></g>
<g id="row61" transform="translate(0,3182)"><use id="k61-1" href="#Sr" x="84"/><use id="k61-2" href="#Sr" x="136"/><use id="k61-3" href="#Sr" x="188"/><use id="k61-4" href="#Sr" x="240"/><use id="k61-5" href="#Sr" x="292"/><use id="k61-6" href="#Sr" x="344"/><use id="k61-7" href="#Sr" x="396"/><use id="k61-8" href="#Sr" x="448"/><use id="k61-9" href="#Sr" x="500"/><use id="k61-10" href="#Sr" x="552"/><use id="k61-11" href="#Sr" x="604"/></g>
<g id="row62" transform="translate(0,3234)"><use id="k62-1" href="#Sl" x="84"/><use id="k62-2" href="#Sl" x="136"/><use id="k62-3" href="#Sl" x="188"/><use id="k62-4" href="#Sl" x="240"/><use id="k62-5" href="#Sl" x="292"/><use id="k62-6" href="#Sl" x="344"/><use id="k62-7" href="#Sl" x="396"/><use id="k62-8" href="#Sl" x="448"/><use id="k62-9" href="#Sl" x="500"/><use id="k62-10" href="#Sl" x="552"/><use id="k62-11" href="#Sl" x="604"/></g>
<g id="row63" transform="translate(0,3286)"><use id="k63-1" href="#Sr" x="84"/><use id="k63-2" href="#Sr" x="136"/><use id="k63-3" href="#Sr" x="188"/><use id="k63-4" href="#Sr" x="240"/><use id="k63-5" href="#Sr" x="292"/><use id="k63-6" href="#Sr" x="344"/><use id="k63-7" href="#Sr" x="396"/><use id="k63-8" href="#Sr" x="448"/><use id="k63-9" href="#Sr" x="500"/><use id="k63-10" href="#Sr" x="552"/><use id="k63-11" href="#Sr" x="604"/></g>
<g id="row64" transform="translate(0,3338)"><use id="k64-1" href="#Sl" x="84"/><use id="k64-2" href="#Sl" x="136"/><use id="k64-3" href="#Sl" x="188"/><use id="k64-4" href="#Sl" x="240"/><use id="k64-5" href="#Sl" x="292"/><use id="k64-6" href="#Sl" x="344"/><use id="k64-7" href="#Sl" x="396"/><use id="k64-8" href="#Sl" x="448"/><use id="k64-9" href="#Sl" x="500"/><use id="k64-10" href="#Sl" x="552"/><use id="k64-11" href="#Sl" x="604"/></g>
<g id="row65" transform="translate(0,3390)"><use id="k65-1" href="#Sr" x="84"/><use id="k65-2" href="#Sr" x="136"/><use id="k65-3" href="#Sr" x="188"/><use id="k65-4" href="#Sr" x="240"/><use id="k65-5" href="#Sr" x="292"/><use id="k65-6" href="#Sr" x="344"/><use id="k65-7" href="#Sr" x="396"/><use id="k65-8" href="#Sr" x="448"/><use id="k65-9" href="#Sr" x="500"/><use id="k65-10" href="#Sr" x="552"/><use id="k65-11" href="#Sr" x="604"/></g>
<g id="row66" transform="translate(0,3442)"><use id="k66-1" href="#Sl" x="84"/><use id="k66-2" href="#Sl" x="136"/><use id="k66-3" href="#Sl" x="188"/><use id="k66-4" href="#Sl" x="240"/><use id="k66-5" href="#Sl" x="292"/><use id="k66-6" href="#Sl" x="344"/><use id="k66-7" href="#Sl" x="396"/><use id="k66-8" href="#Sl" x="448"/><use id="k66-9" href="#Sl" x="500"/><use id="k66-10" href="#Sl" x="552"/><use id="k66-11" href="#Sl" x="604"/></g>
<g id="row67" transform="translate(0,3494)"><use id="k67-1" href="#Sr" x="84"/><use id="k67-2" href="#Sr" x="136"/><use id="k67-3" href="#Sr" x="188"/><use id="k67-4" href="#Sr" x="240"/><use id="k67-5" href="#Sr" x="292"/><use id="k67-6" href="#Sr" x="344"/><use id="k67-7" href="#Sr" x="396"/><use id="k67-8" href="#Sr" x="448"/><use id="k67-9" href="#Sr" x="500"/><use id="k67-10" href="#Sr" x="552"/><use id="k67-11" href="#Sr" x="604"/></g>
<g id="row68" transform="translate(0,3546)"><use id="k68-1" href="#Sl" x="84"/><use id="k68-2" href="#Sl" x="136"/><use id="k68-3" href="#Sl" x="188"/><use id="k68-4" href="#Sl" x="240"/><use id="k68-5" href="#Sl" x="292"/><use id="k68-6" href="#Sl" x="344"/><use id="k68-7" href="#Sl" x="396"/><use id="k68-8" href="#Sl" x="448"/><use id="k68-9" href="#Sl" x="500"/><use id="k68-10" href="#Sl" x="552"/><use id="k68-11" href="#Sl" x="604"/></g>
<g id="row69" transform="translate(0,3598)"><use id="k69-1" href="#Sr" x="84"/><use id="k69-2" href="#Sr" x="136"/><use id="k69-3" href="#Sr" x="188"/><use id="k69-4" href="#Sr" x="240"/><use id="k69-5" href="#Sr" x="292"/><use id="k69-6" href="#Sr" x="344"/><use id="k69-7" href="#Sr" x="396"/><use id="k69-8" href="#Sr" x="448"/><use id="k69-9" href="#Sr" x="500"/><use id="k69-10" href="#Sr" x="552"/><use id="k69-11" href="#Sr" x="604"/></g>
</g>
<g id="stub-labels" class="sl">
<text x="32" y="66" fill="#fff">A</text>
<text x="658" y="846" fill="#fff" text-anchor="end">B</text>
<text x="32" y="898" fill="#2a3a4a">C</text>
<text x="658" y="2770" fill="#2a3a4a" text-anchor="end">C</text>
<text x="32" y="2822" fill="#fff">B</text>
<text x="658" y="3602" fill="#fff" text-anchor="end">A</text>
</g>
<g id="row-numbers-left" class="rn rl">
<text x="21" y="66.7">1</text><text x="21" y="118.7">2</text><text x="21" y="170.7">3</text><text x="21" y="222.7">4</text><text x="21" y="274.7">5</text><text x="21" y="326.7">6</text><text x="21" y="378.7">7</text><text x="21" y="430.7">8</text><text x="21" y="482.7">9</text><text x="21" y="534.7">10</text><text x="21" y="586.7">11</text><text x="21" y="638.7">12</text><text x="21" y="690.7">13</text><text x="21" y="742.7">14</text><text x="21" y="794.7">15</text><text x="21" y="846.7">16</text><text x="21" y="898.7">17</text><text x="21" y="950.7">18</text><text x="21" y="1002.7">19</text><text x="21" y="1054.7">20</text><text x="21" y="1106.7">21</text><text x="21" y="1158.7">22</text><text x="21" y="1210.7">23</text><text x="21" y="1262.7">24</text><text x="21" y="1314.7">25</text><text x="21" y="1366.7">26</text><text x="21" y="1418.7">27</text><text x="21" y="1470.7">28</text><text x="21" y="1522.7">29</text><text x="21" y="1574.7">30</text><text x="21" y="1626.7">31</text><text x="21" y="1678.7">32</text><text x="21" y="1730.7">33</text><text x="21" y="1782.7">34</text><text x="21" y="1834.7">35</text><text x="21" y="1886.7">36</text><text x="21" y="1938.7">37</text><text x="21" y="1990.7">38</text><text x="21" y="2042.7">39</text><text x="21" y="2094.7">40</text><text x="21" y="2146.7">41</text><text x="21" y="2198.7">42</text><text x="21" y="2250.7">43</text><text x="21" y="2302.7">44</text><text x="21" y="2354.7">45</text><text x="21" y="2406.7">46</text><text x="21" y="2458.7">47</text><text x="21" y="2510.7">48</text><text x="21" y="2562.7">49</text><text x="21" y="2614.7">50</text><text x="21" y="2666.7">51</text><text x="21" y="2718.7">52</text><text x="21" y="2770.7">53</text><text x="21" y="2822.7">54</text><text x="21" y="2874.7">55</text><text x="21" y="2926.7">56</text><text x="21" y="2978.7">57</text><text x="21" y="3030.7">58</text><text x="21" y="3082.7">59</text><text x="21" y="3134.7">60</text><text x="21" y="3186.7">61</text><text x="21" y="3238.7">62</text><text x="21" y="3290.7">63</text><text x="21" y="3342.7">64</text><text x="21" y="3394.7">65</text><text x="21" y="3446.7">66</text><text x="21" y="3498.7">67</text><text x="21" y="3550.7">68</text><text x="21" y="3602.7">69</text>
</g>
<g id="row-numbers-right" class="rn">
<text x="667" y="66.7">1</text><text x="667" y="118.7">2</text><text x="667" y="170.7">3</text><text x="667" y="222.7">4</text><text x="667" y="274.7">5</text><text x="667" y="326.7">6</text><text x="667" y="378.7">7</text><text x="667" y="430.7">8</text><text x="667" y="482.7">9</text><text x="667" y="534.7">10</text><text x="667" y="586.7">11</text><text x="667" y="638.7">12</text><text x="667" y="690.7">13</text><text x="667" y="742.7">14</text><text x="667" y="794.7">15</text><text x="667" y="846.7">16</text><text x="667" y="898.7">17</text><text x="667" y="950.7">18</text><text x="667" y="1002.7">19</text><text x="667" y="1054.7">20</text><text x="667" y="1106.7">21</text><text x="667" y="1158.7">22</text><text x="667" y="1210.7">23</text><text x="667" y="1262.7">24</text><text x="667" y="1314.7">25</text><text x="667" y="1366.7">26</text><text x="667" y="1418.7">27</text><text x="667" y="1470.7">28</text><text x="667" y="1522.7">29</text><text x="667" y="1574.7">30</text><text x="667" y="1626.7">31</text><text x="667" y="1678.7">32</text><text x="667" y="1730.7">33</text><text x="667" y="1782.7">34</text><text x="667" y="1834.7">35</text><text x="667" y="1886.7">36</text><text x="667" y="1938.7">37</text><text x="667" y="1990.7">38</text><text x="667" y="2042.7">39</text><text x="667" y="2094.7">40</text><text x="667" y="2146.7">41</text><text x="667" y="2198.7">42</text><text x="667" y="2250.7">43</text><text x="667" y="2302.7">44</text><text x="667" y="2354.7">45</text><text x="667" y="2406.7">46</text><text x="667" y="2458.7">47</text><text x="667" y="2510.7">48</text><text x="667" y="2562.7">49</text><text x="667" y="2614.7">50</text><text x="667" y="2666.7">51</text><text x="667" y="2718.7">52</text><text x="667" y="2770.7">53</text><text x="667" y="2822.7">54</text><text x="667" y="2874.7">55</text><text x="667" y="2926.7">56</text><text x="667" y="2978.7">57</text><text x="667" y="3030.7">58</text><text x="667" y="3082.7">59</text><text x="667" y="3134.7">60</text><text x="667" y="3186.7">61</text><text x="667" y="3238.7">62</text><text x="667" y="3290.7">63</text><text x="667" y="3342.7">64</text><text x="667" y="3394.7">65</text><text x="667" y="3446.7">66</text><text x="667" y="3498.7">67</text><text x="667" y="3550.7">68</text><text x="667" y="3602.7">69</text>
</g>
<text id="watermark" class="wm" x="345" y="1861">BRACELETBOOK.COM</text>
</svg>
